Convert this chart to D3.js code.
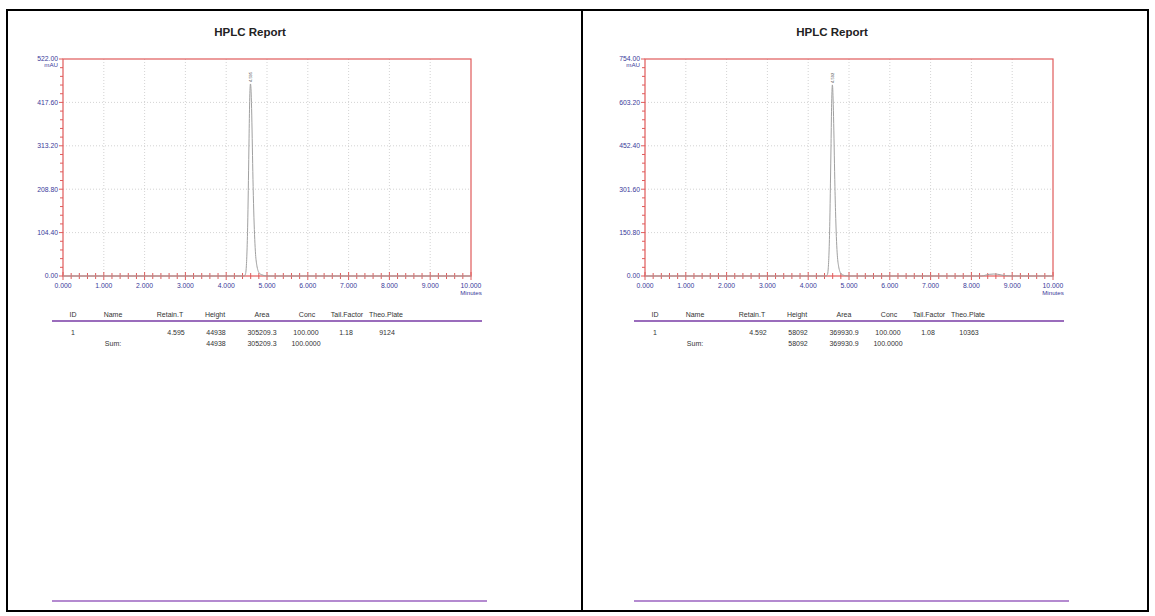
<!DOCTYPE html>
<html>
<head>
<meta charset="utf-8">
<script src="https://cdn.jsdelivr.net/npm/d3@7/dist/d3.min.js"></script>
<style>
  html, body { margin: 0; padding: 0; background: #fff; }
  svg { display: block; font-family: "Liberation Sans", Arial, sans-serif; }
</style>
</head>
<body>
<svg id="report" width="1155" height="616"></svg>
<script>
// ---- Report data ----------------------------------------------------------
const reportTitles = ["HPLC Report", "HPLC Report"];

// Time axis (minutes)
const timeTicks = [0, 1, 2, 3, 4, 5, 6, 7, 8, 9, 10];
const timeTickLabels = ["0.000", "1.000", "2.000", "3.000", "4.000", "5.000",
                        "6.000", "7.000", "8.000", "9.000", "10.000"];

// Signal axis (mAU), one set per run
const signalTicksA = [0, 104.40, 208.80, 313.20, 417.60, 522.00];
const signalTickLabelsA = ["0.00", "104.40", "208.80", "313.20", "417.60", "522.00"];
const signalTicksB = [0, 150.80, 301.60, 452.40, 603.20, 754.00];
const signalTickLabelsB = ["0.00", "150.80", "301.60", "452.40", "603.20", "754.00"];

// Chromatogram, run A
const traceTimeA = [0, 1, 2, 3, 4, 4.44, 4.47, 4.49, 4.51, 4.53, 4.545, 4.56, 4.575,
                    4.585, 4.595, 4.605, 4.615, 4.63, 4.645, 4.66, 4.68, 4.70, 4.72,
                    4.75, 4.78, 4.82, 4.87, 4.93, 5.02, 6, 7, 8, 9, 10];
const traceSignalA = [0, 0, 0, 0, 0, 0, 4, 18, 60, 140, 230, 330, 420,
                      452, 462, 455, 430, 370, 290, 215, 140, 88, 52,
                      26, 13, 6, 3, 1, 0, 0, 0, 0, 0, 0];

// Chromatogram, run B
const traceTimeB = [0, 1, 2, 3, 4, 4.44, 4.47, 4.49, 4.51, 4.53, 4.545, 4.56, 4.575,
                    4.585, 4.592, 4.60, 4.61, 4.625, 4.64, 4.655, 4.675, 4.695, 4.715,
                    4.745, 4.775, 4.81, 4.86, 4.92, 5.0, 6, 7, 8, 8.25, 8.35, 8.45,
                    8.55, 8.65, 8.75, 8.85, 9, 10];
const traceSignalB = [0, 0, 0, 0, 0, 0, 5, 24, 80, 190, 320, 460, 600,
                      650, 664, 655, 615, 530, 420, 310, 200, 120, 70,
                      34, 16, 7, 3, 1, 0, 0, 0, 0, 0, 3, 6,
                      7, 6, 3, 1, 0, 0];

const peakTimes = [4.595, 4.592];
const peakLabels = ["4.595", "4.592"];

// Peak table
const tableHeaders = ["ID", "Name", "Retain.T", "Height", "Area", "Conc", "Tail.Factor", "Theo.Plate"];
const tableRowsA = [
  ["1", "", "4.595", "44938", "305209.3", "100.000", "1.18", "9124"],
  ["", "Sum:", "", "44938", "305209.3", "100.0000", "", ""]
];
const tableRowsB = [
  ["1", "", "4.592", "58092", "369930.9", "100.000", "1.08", "10363"],
  ["", "Sum:", "", "58092", "369930.9", "100.0000", "", ""]
];

// ---- Layout -----------------------------------------------------------------
const svg = d3.select("#report");
const frameColor = "#e05a5a";
const axisTextColor = "#3a3a9a";
const tableTextColor = "#333";
const ruleColor = "#9a6cbc";

// page border and panel divider
svg.append("rect").attr("x", 7).attr("y", 10).attr("width", 1141).attr("height", 601)
  .attr("fill", "none").attr("stroke", "#000").attr("stroke-width", 2);
svg.append("line").attr("x1", 582).attr("x2", 582).attr("y1", 10).attr("y2", 611)
  .attr("stroke", "#000").attr("stroke-width", 2);

const headerX = [73, 113, 170, 215, 262, 307, 347, 386];
const cellX = [73, 113, 176, 216, 262, 306, 346, 387];

const panels = [
  { dx: 0, title: reportTitles[0], ticks: signalTicksA, tickLabels: signalTickLabelsA,
    t: traceTimeA, s: traceSignalA, peak: peakTimes[0], peakLabel: peakLabels[0], rows: tableRowsA },
  { dx: 582, title: reportTitles[1], ticks: signalTicksB, tickLabels: signalTickLabelsB,
    t: traceTimeB, s: traceSignalB, peak: peakTimes[1], peakLabel: peakLabels[1], rows: tableRowsB }
];

panels.forEach(p => {
  const g = svg.append("g").attr("transform", `translate(${p.dx},0)`);
  const yMax = p.ticks[p.ticks.length - 1];
  const x = d3.scaleLinear().domain([0, 10]).range([63, 471]);
  const y = d3.scaleLinear().domain([0, yMax]).range([276, 59]);

  g.append("text").attr("x", 250).attr("y", 36).attr("text-anchor", "middle")
    .attr("font-size", 11.5).attr("font-weight", "bold").attr("fill", "#222").text(p.title);

  // dotted grid
  g.append("g").selectAll("line").data(timeTicks.slice(1, -1)).join("line")
    .attr("x1", d => x(d)).attr("x2", d => x(d)).attr("y1", 59).attr("y2", 276)
    .attr("stroke", "#c8c8c8").attr("stroke-width", 0.8).attr("stroke-dasharray", "1,2");
  g.append("g").selectAll("line").data(p.ticks.slice(1, -1)).join("line")
    .attr("x1", 63).attr("x2", 471).attr("y1", d => y(d)).attr("y2", d => y(d))
    .attr("stroke", "#c8c8c8").attr("stroke-width", 0.8).attr("stroke-dasharray", "1,2");

  // minor ticks
  const xMinor = d3.range(0, 50).map(i => i * 0.2).filter(v => Math.abs(v - Math.round(v)) > 1e-6);
  g.append("g").selectAll("line").data(xMinor).join("line")
    .attr("x1", d => x(d)).attr("x2", d => x(d)).attr("y1", 273).attr("y2", 279)
    .attr("stroke", frameColor).attr("stroke-width", 1);
  const step = p.ticks[1] / 5;
  const yMinor = d3.range(0, 25).map(i => i * step).filter((v, i) => i % 5 !== 0);
  g.append("g").selectAll("line").data(yMinor).join("line")
    .attr("x1", 60).attr("x2", 63).attr("y1", d => y(d)).attr("y2", d => y(d))
    .attr("stroke", frameColor).attr("stroke-width", 1);

  // major ticks
  g.append("g").selectAll("line").data(timeTicks).join("line")
    .attr("x1", d => x(d)).attr("x2", d => x(d)).attr("y1", 272).attr("y2", 280)
    .attr("stroke", frameColor).attr("stroke-width", 1);
  g.append("g").selectAll("line").data(p.ticks).join("line")
    .attr("x1", 59).attr("x2", 63).attr("y1", d => y(d)).attr("y2", d => y(d))
    .attr("stroke", frameColor).attr("stroke-width", 1);

  // plot frame
  g.append("rect").attr("x", 63).attr("y", 59).attr("width", 408).attr("height", 217)
    .attr("fill", "none").attr("stroke", frameColor).attr("stroke-width", 1.2);

  // tick labels
  g.append("g").selectAll("text").data(timeTicks).join("text")
    .attr("x", d => x(d)).attr("y", 288).attr("text-anchor", "middle")
    .attr("font-size", 6.8).attr("fill", axisTextColor).text((d, i) => timeTickLabels[i]);
  g.append("text").attr("x", x(10)).attr("y", 295).attr("text-anchor", "middle")
    .attr("font-size", 6.2).attr("fill", axisTextColor).text("Minutes");
  g.append("g").selectAll("text").data(p.ticks).join("text")
    .attr("x", 58).attr("y", d => y(d) + 2.3).attr("text-anchor", "end")
    .attr("font-size", 6.8).attr("fill", axisTextColor).text((d, i) => p.tickLabels[i]);
  g.append("text").attr("x", 58).attr("y", 66.5).attr("text-anchor", "end")
    .attr("font-size", 6.2).attr("fill", axisTextColor).text("mAU");

  // chromatogram trace
  const pts = p.t.map((t, i) => [t, p.s[i]]);
  g.append("path").datum(pts)
    .attr("d", d3.line().x(d => x(d[0])).y(d => y(d[1])).curve(d3.curveMonotoneX))
    .attr("fill", "none").attr("stroke", "#a0a0a0").attr("stroke-width", 1);

  // retention time label on the apex
  const apex = d3.max(p.s);
  g.append("text")
    .attr("transform", `translate(${x(p.peak) + 1.5},${y(apex) - 2}) rotate(-90)`)
    .attr("font-size", 4).attr("fill", "#444").text(p.peakLabel);

  // peak table
  g.append("g").selectAll("text").data(tableHeaders).join("text")
    .attr("x", (d, i) => headerX[i]).attr("y", 317).attr("text-anchor", "middle")
    .attr("font-size", 7).attr("fill", tableTextColor).text(d => d);
  g.append("line").attr("x1", 52).attr("x2", 482).attr("y1", 321).attr("y2", 321)
    .attr("stroke", ruleColor).attr("stroke-width", 1.8);
  p.rows.forEach((row, r) => {
    g.append("g").selectAll("text").data(row).join("text")
      .attr("x", (d, i) => cellX[i]).attr("y", 335 + r * 11).attr("text-anchor", "middle")
      .attr("font-size", 7).attr("fill", tableTextColor).text(d => d);
  });

  // footer rule
  g.append("line").attr("x1", 52).attr("x2", 487).attr("y1", 601).attr("y2", 601)
    .attr("stroke", "#b48ad0").attr("stroke-width", 2);
});
</script>
</body>
</html>
